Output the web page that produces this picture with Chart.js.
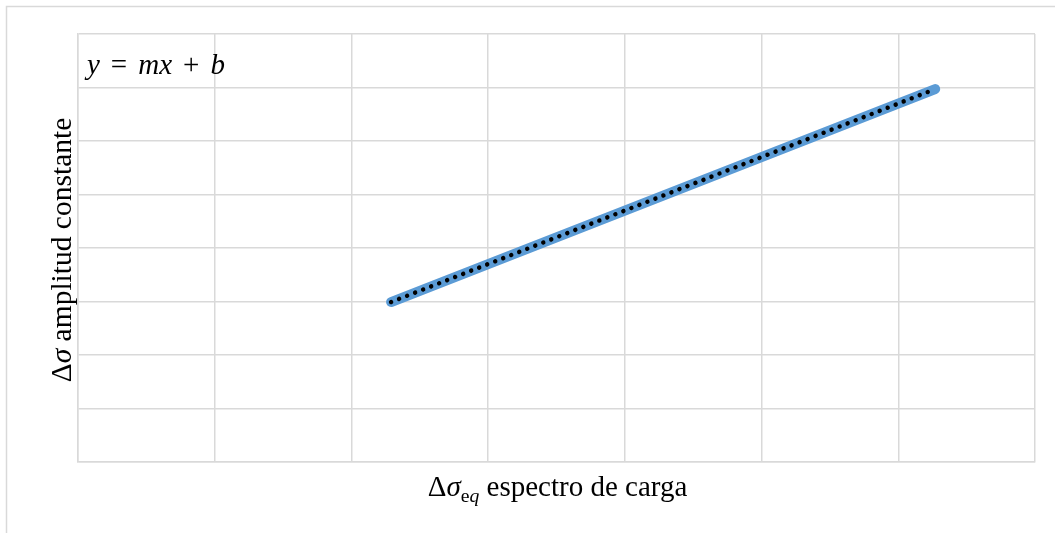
<!DOCTYPE html>
<html>
<head>
<meta charset="utf-8">
<script src="https://cdn.jsdelivr.net/npm/chart.js@4/dist/chart.umd.min.js"></script>
<style>
  html, body { margin: 0; padding: 0; background: #ffffff; overflow: hidden; }
  #wrap { width: 1055px; height: 533px; position: relative; }
</style>
</head>
<body>
<div id="wrap"><canvas id="chart" width="1055" height="533"></canvas></div>
<script>
// Δσeq (load spectrum) and Δσ (constant amplitude) end points of the series
const loadSpectrum = [2.29, 6.27];
const constantAmplitude = [2.99, 6.97];
// Linear trend line over the same range
const trendX = [2.29, 6.27];
const trendY = [2.99, 6.97];
// Axis extents (tick labels are not shown, only the grid)
const xTicks = [0, 1, 2, 3, 4, 5, 6, 7];
const yTicks = [0, 1, 2, 3, 4, 5, 6, 7, 8];

const serif = "'Liberation Serif', 'Times New Roman', serif";
const gridColor = '#d9d9d9';

// Width of a sequence of styled text runs
function runsWidth(ctx, runs, size) {
  let w = 0;
  for (const r of runs) {
    const s = r.sub ? size * 0.68 : size;
    ctx.font = (r.italic ? 'italic ' : '') + s + 'px ' + serif;
    w += (r.padL || 0) + ctx.measureText(r.t).width + (r.padR || 0);
  }
  return w;
}
// Draws a sequence of styled text runs starting at (x, y) on the baseline
function drawRuns(ctx, runs, x, y, size) {
  for (const r of runs) {
    const s = r.sub ? size * 0.68 : size;
    ctx.font = (r.italic ? 'italic ' : '') + s + 'px ' + serif;
    x += r.padL || 0;
    ctx.fillText(r.t, x, y + (r.sub ? size * 0.22 : 0));
    x += ctx.measureText(r.t).width + (r.padR || 0);
  }
}

const xTitle = [
  { t: 'Δ' }, { t: 'σ', italic: true }, { t: 'e', sub: true }, { t: 'q', sub: true, italic: true },
  { t: ' espectro de carga' }
];
const yTitle = [{ t: 'Δ' }, { t: 'σ', italic: true }, { t: ' amplitud constante' }];
const equation = [
  { t: 'y', italic: true }, { t: '=', padL: 11, padR: 11 }, { t: 'mx', italic: true },
  { t: '+', padL: 11, padR: 11 }, { t: 'b', italic: true }
];

const decor = {
  id: 'decor',
  beforeDraw(chart) {
    const ctx = chart.ctx;
    ctx.save();
    ctx.fillStyle = '#ffffff';
    ctx.fillRect(0, 0, chart.width, chart.height);
    // outer frame of the chart object
    ctx.strokeStyle = gridColor;
    ctx.lineWidth = 1.5;
    ctx.beginPath();
    ctx.moveTo(6.5, chart.height + 2);
    ctx.lineTo(6.5, 6.5);
    ctx.lineTo(chart.width + 2, 6.5);
    ctx.stroke();
    ctx.restore();
  },
  afterDraw(chart) {
    const ctx = chart.ctx;
    const a = chart.chartArea;
    ctx.save();
    ctx.fillStyle = '#000000';
    ctx.textBaseline = 'alphabetic';
    ctx.textAlign = 'left';
    // x axis title
    const wx = runsWidth(ctx, xTitle, 29);
    drawRuns(ctx, xTitle, (a.left + a.right) / 2 - wx / 2 + 1, 496, 29);
    // y axis title
    const wy = runsWidth(ctx, yTitle, 29.5);
    ctx.translate(71, (a.top + a.bottom) / 2 + 2);
    ctx.rotate(-Math.PI / 2);
    drawRuns(ctx, yTitle, -wy / 2, 0, 29.5);
    ctx.restore();
    // equation inside the plot area
    ctx.save();
    ctx.fillStyle = '#000000';
    drawRuns(ctx, equation, 87, 74, 29);
    ctx.restore();
  }
};

new Chart(document.getElementById('chart'), {
  type: 'scatter',
  data: {
    datasets: [
      {
        data: trendX.map((x, i) => ({ x, y: trendY[i] })),
        showLine: true,
        borderColor: '#000000',
        borderWidth: 4.5,
        borderDash: [0.001, 8.6],
        borderCapStyle: 'round',
        pointRadius: 0,
        fill: false,
        order: 0
      },
      {
        data: loadSpectrum.map((x, i) => ({ x, y: constantAmplitude[i] })),
        showLine: true,
        borderColor: '#5b9bd5',
        borderWidth: 10,
        borderCapStyle: 'round',
        pointRadius: 0,
        fill: false,
        order: 1
      }
    ]
  },
  options: {
    responsive: false,
    animation: false,
    devicePixelRatio: 1,
    layout: { padding: { left: 78, right: 20, top: 34, bottom: 71 } },
    plugins: { legend: { display: false }, tooltip: { enabled: false } },
    scales: {
      x: {
        type: 'linear',
        min: xTicks[0],
        max: xTicks[xTicks.length - 1],
        afterBuildTicks(scale) { scale.ticks = xTicks.map(v => ({ value: v })); },
        afterFit(scale) { scale.height = 0; },
        ticks: { display: false },
        grid: { color: gridColor, lineWidth: 1.5, drawTicks: false },
        border: { color: gridColor, width: 1.5 }
      },
      y: {
        type: 'linear',
        min: yTicks[0],
        max: yTicks[yTicks.length - 1],
        afterBuildTicks(scale) { scale.ticks = yTicks.map(v => ({ value: v })); },
        afterFit(scale) { scale.width = 0; },
        ticks: { display: false },
        grid: { color: gridColor, lineWidth: 1.5, drawTicks: false },
        border: { color: gridColor, width: 1.5 }
      }
    }
  },
  plugins: [decor]
});
</script>
</body>
</html>
